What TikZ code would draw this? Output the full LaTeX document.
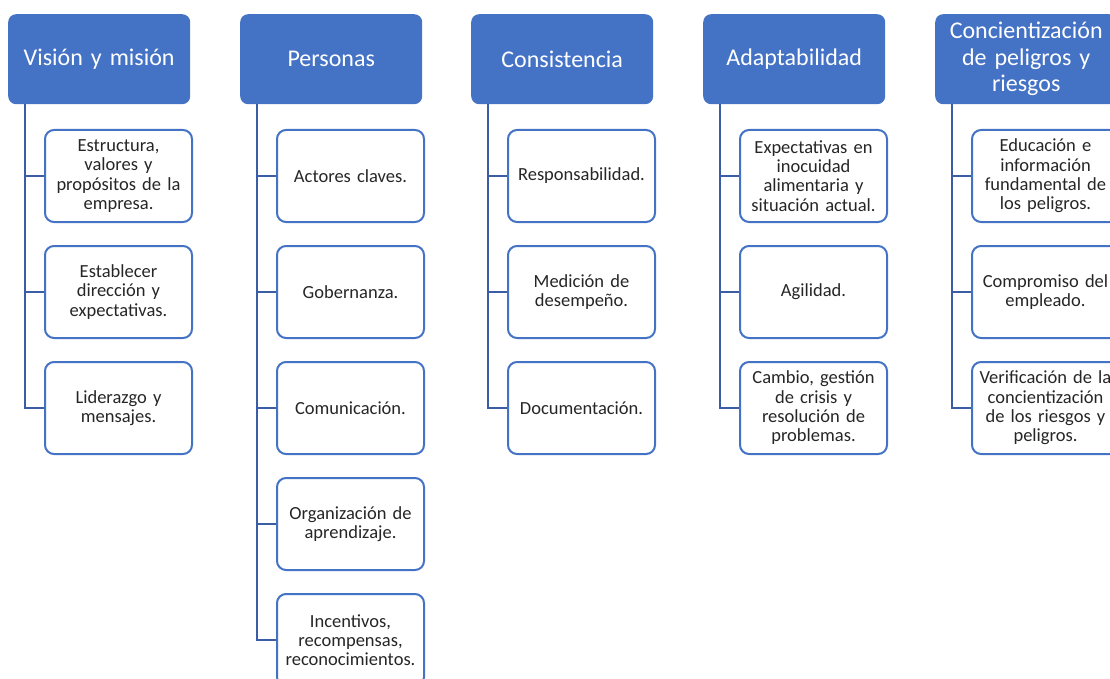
\documentclass[tikz,border=0pt]{standalone}
\usepackage{fontspec}
\setmainfont[WordSpace=0.8]{Carlito}
\definecolor{hdrblue}{HTML}{4472C4}
\definecolor{linkblue}{HTML}{3A5DA6}
\definecolor{txtgray}{HTML}{262626}
\tikzset{
  header/.style={rectangle, rounded corners=8pt, fill=hdrblue, draw=none,
    anchor=north west, minimum width=182pt, minimum height=90pt,
    text width=176pt, inner sep=3pt, align=center, text=white,
    font=\fontsize{24}{26.5}\selectfont},
  item/.style={rectangle, rounded corners=9pt, fill=white, draw=hdrblue,
    line width=2pt, anchor=north west, minimum width=147pt, minimum height=92pt,
    text width=141pt, inner sep=3pt, align=center, text=txtgray,
    font=\fontsize{18.5}{19.3}\selectfont},
  link/.style={draw=linkblue, line width=2.8pt}
}
\begin{document}
\begin{tikzpicture}[x=1pt,y=-1pt]
\useasboundingbox (0,0) rectangle (1110,679);
\clip (0,0) rectangle (1110,679);

% column headers
\node[header] (h1) at (8,14)   {Visión y misión};
\node[header] (h2) at (240,14) {Personas};
\node[header] (h3) at (471,14) {Consistencia};
\node[header] (h4) at (703,14) {Adaptabilidad};
\node[header] (h5) at (935,14) {Concientización\\de peligros y\\riesgos};

% stem tops under each header
\coordinate (s1) at (25,104);
\coordinate (s2) at (257,104);
\coordinate (s3) at (488,104);
\coordinate (s4) at (720,104);
\coordinate (s5) at (952,104);

% column 1
\node[item] (c11) at (44,129) {Estructura,\\valores y\\propósitos de la\\empresa.};
\node[item] (c12) at (44,245) {Establecer\\dirección y\\expectativas.};
\node[item] (c13) at (44,361) {Liderazgo y\\mensajes.};

% column 2
\node[item] (c21) at (276,129) {Actores claves.};
\node[item] (c22) at (276,245) {Gobernanza.};
\node[item] (c23) at (276,361) {Comunicación.};
\node[item] (c24) at (276,477) {Organización de\\aprendizaje.};
\node[item] (c25) at (276,593) {Incentivos,\\recompensas,\\reconocimientos.};

% column 3
\node[item] (c31) at (507,129) {Responsabilidad.};
\node[item] (c32) at (507,245) {Medición de\\desempeño.};
\node[item] (c33) at (507,361) {Documentación.};

% column 4
\node[item] (c41) at (739,129) {Expectativas en\\inocuidad\\alimentaria y\\situación actual.};
\node[item] (c42) at (739,245) {Agilidad.};
\node[item] (c43) at (739,361) {Cambio, gestión\\de crisis y\\resolución de\\problemas.};

% column 5
\node[item] (c51) at (971,129) {Educación e\\información\\fundamental de\\los peligros.};
\node[item] (c52) at (971,245) {Compromiso del\\empleado.};
\node[item] (c53) at (971,361) {Verificación de la\\concientización\\de los riesgos y\\peligros.};

% connectors from each stem to its items
\foreach \c/\n in {1/3, 2/5, 3/3, 4/3, 5/3}{
  \foreach \k in {1,...,\n}{
    \draw[link] (s\c) |- (c\c\k.west);
  }
}
\end{tikzpicture}
\end{document}
